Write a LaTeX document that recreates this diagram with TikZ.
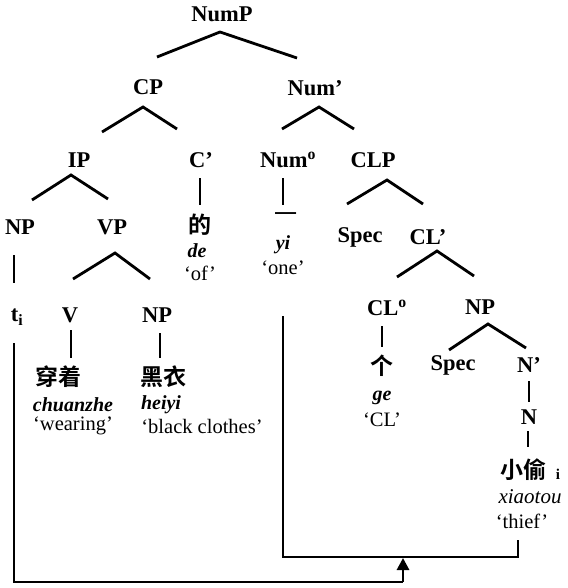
\documentclass[tikz,border=0pt]{standalone}
\usepackage{fontspec}
\setmainfont{Liberation Serif}
\newfontfamily\cjk{Noto Sans CJK SC Bold}
\newfontfamily\cjkr{Noto Sans CJK SC}
\usetikzlibrary{arrows.meta}
\tikzset{
  lab/.style={inner sep=0pt, font=\fontsize{22.5}{25}\selectfont\bfseries},
  it/.style={inner sep=0pt, font=\fontsize{20}{22}\selectfont\bfseries\itshape},
  itr/.style={inner sep=0pt, font=\fontsize{21}{23}\selectfont\itshape},
  gl/.style={inner sep=0pt, font=\fontsize{20.5}{22}\selectfont},
  zh/.style={inner sep=0pt, font=\fontsize{23}{25}\selectfont\cjk},
  br/.style={line width=2.8pt},
  mv/.style={line width=2.8pt}
}
\begin{document}
\begin{tikzpicture}[x=1pt,y=-1pt]
\useasboundingbox (0,0) rectangle (567,588);
% labels
\node[lab] (NumP) at (222,14) {NumP};
\node[lab] (CP) at (148,87) {CP};
\node[lab] (Numb) at (315,88) {Num’};
\node[lab] (IP) at (79,160) {IP};
\node[lab] (Cb) at (201,160) {C’};
\node[lab] (Num0) at (288,160) {Num\textsuperscript{o}};
\node[lab] (CLP) at (373,160) {CLP};
\node[lab] (NP1) at (20,227) {NP};
\node[lab] (VP) at (112,227) {VP};
\node[zh] (dezh) at (200,225) {的};
\node[zh, font=\fontsize{23}{25}\selectfont\cjkr] (yizh) at (286,218) {一};
\node[it] (de) at (197,251) {de};
\node[gl] (of) at (200,273) {‘of’};
\node[it] (yi) at (283,245) {yi};
\node[gl] (one) at (283,268) {‘one’};
\node[lab] (Spec1) at (360,237) {Spec};
\node[lab] (CLb) at (428,237) {CL’};
\node[lab] (ti) at (17,317) {t\textsubscript{i}};
\node[lab] (V) at (70,315) {V};
\node[lab] (NP2) at (157,315) {NP};
\node[lab] (CL0) at (387,308) {CL\textsuperscript{o}};
\node[lab] (NP3) at (480,307) {NP};
\node[zh] (chzh) at (58,377) {穿着};
\node[zh] (hyzh) at (163,377) {黑衣};
\node[it] (chuanzhe) at (73,405) {chuanzhe};
\node[it] (heiyi) at (161,405) {heiyi};
\node[gl] (wearing) at (73,426) {‘wearing’};
\node[gl] (black) at (202,426) {‘black clothes’};
\node[zh] (gezh) at (382,366) {个};
\node[lab] (Spec2) at (453,365) {Spec};
\node[lab] (Nb) at (529,365) {N’};
\node[it] (ge) at (382,398) {ge};
\node[gl] (CLgl) at (382,420) {‘CL’};
\node[lab] (N) at (529,417) {N};
\node[zh] (xtzh) at (523,470) {小偷};
\node[inner sep=0pt, font=\fontsize{15}{16}\selectfont\bfseries] (idx) at (558,474) {i};
\node[itr] (xiaotou) at (530,497) {xiaotou};
\node[gl] (thief) at (522,521) {‘thief’};
% branch points
\coordinate (NumP-b) at (220,32);
\coordinate (CP-t) at (157,57);
\coordinate (Numb-t) at (297,58);
\coordinate (CP-b) at (143,107);
\coordinate (IP-t) at (102,132);
\coordinate (Cb-t) at (177,129);
\coordinate (Numb-b) at (319,107);
\coordinate (Num0-t) at (282,129);
\coordinate (CLP-t) at (354,129);
\coordinate (IP-b) at (71,175);
\coordinate (NP1-t) at (32,200);
\coordinate (VP-t) at (108,199);
\coordinate (Cb-b) at (200,178);
\coordinate (dezh-t) at (200,205);
\coordinate (Num0-b) at (283,178);
\coordinate (yizh-t) at (283,205);
\coordinate (CLP-b) at (387,180);
\coordinate (Spec1-t) at (347,204);
\coordinate (CLb-t) at (423,204);
\coordinate (NP1-b) at (14,255);
\coordinate (ti-t) at (14,283);
\coordinate (VP-b) at (115,253);
\coordinate (V-t) at (73,279);
\coordinate (NP2-t) at (150,279);
\coordinate (CLb-b) at (437,251);
\coordinate (CL0-t) at (397,277);
\coordinate (NP3-t) at (474,276);
\coordinate (V-b) at (71,330);
\coordinate (chzh-t) at (71,358);
\coordinate (NP2-b) at (160,333);
\coordinate (hyzh-t) at (160,358);
\coordinate (CL0-b) at (382,326);
\coordinate (gezh-t) at (382,347);
\coordinate (NP3-b) at (488,324);
\coordinate (Spec2-t) at (449,350);
\coordinate (Nb-t) at (526,348);
\coordinate (Nb-b) at (529,381);
\coordinate (N-t) at (529,402);
\coordinate (N-b) at (528,431);
\coordinate (xtzh-t) at (528,447);
% movement points
\coordinate (ti-b) at (14,343);
\coordinate (m1) at (14,582);
\coordinate (m2) at (403,582);
\coordinate (m3) at (403,558);
\coordinate (yi-b) at (283,316);
\coordinate (n1) at (283,557);
\coordinate (n2) at (518,557);
\coordinate (thief-b) at (518,540);
% branches
\draw[br] (CP-t) -- (NumP-b) -- (Numb-t);
\draw[br] (IP-t) -- (CP-b) -- (Cb-t);
\draw[br] (Num0-t) -- (Numb-b) -- (CLP-t);
\draw[br] (NP1-t) -- (IP-b) -- (VP-t);
\draw[br] (Cb-b) -- (dezh-t);
\draw[br] (Num0-b) -- (yizh-t);
\draw[br] (Spec1-t) -- (CLP-b) -- (CLb-t);
\draw[br] (NP1-b) -- (ti-t);
\draw[br] (V-t) -- (VP-b) -- (NP2-t);
\draw[br] (CL0-t) -- (CLb-b) -- (NP3-t);
\draw[br] (V-b) -- (chzh-t);
\draw[br] (NP2-b) -- (hyzh-t);
\draw[br] (CL0-b) -- (gezh-t);
\draw[br] (Spec2-t) -- (NP3-b) -- (Nb-t);
\draw[br] (Nb-b) -- (N-t);
\draw[br] (N-b) -- (xtzh-t);
% movement
\draw[mv] (ti-b) -- (m1) -- (m2);
\draw[mv, -{Triangle[width=12pt,length=12pt]}] (m2) -- (m3);
\draw[mv] (yi-b) -- (n1) -- (n2) -- (thief-b);
\end{tikzpicture}
\end{document}
